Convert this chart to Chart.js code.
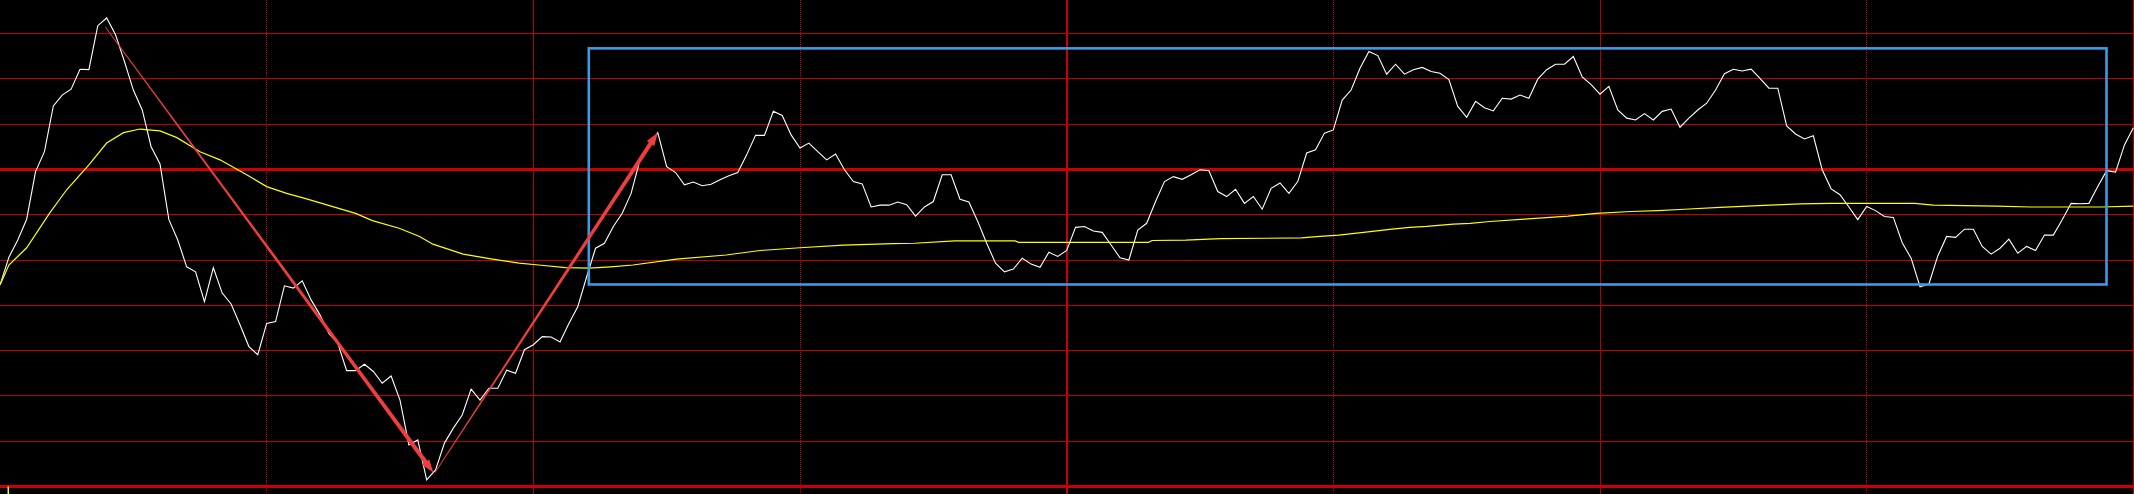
<!DOCTYPE html>
<html>
<head>
<meta charset="utf-8">
<script src="https://cdn.jsdelivr.net/npm/chart.js@4/dist/chart.umd.min.js"></script>
<style>
  html, body { margin: 0; padding: 0; background: #000; overflow: hidden; }
  #wrap { width: 2134px; height: 494px; position: relative; background: #000; }
</style>
</head>
<body>
<div id="wrap"><canvas id="c"></canvas></div>
<script>
// ---- data (intraday minutes 0..240, values in % vs reference line) ----
const price = [
 -2.55,-1.94,-1.56,-1.10,-0.05,0.39,1.40,1.64,1.77,2.21,
 2.20,3.17,3.34,2.97,2.38,1.75,1.31,0.50,0.12,-1.11,
 -1.56,-2.15,-2.26,-2.92,-2.17,-2.73,-2.97,-3.43,-3.91,-4.09,
 -3.40,-3.36,-2.57,-2.62,-2.46,-2.88,-3.21,-3.62,-3.84,-4.44,
 -4.44,-4.30,-4.46,-4.72,-4.56,-5.09,-6.08,-5.97,-6.85,-6.63,
 -6.04,-5.71,-5.42,-4.85,-5.09,-4.83,-4.83,-4.43,-4.50,-3.98,
 -3.87,-3.69,-3.70,-3.81,-3.40,-3.03,-2.37,-1.74,-1.63,-1.26,
 -0.97,-0.53,0.21,0.50,0.81,0.06,-0.07,-0.34,-0.28,-0.36,
 -0.33,-0.23,-0.14,-0.07,0.32,0.75,0.75,1.28,1.19,0.76,
 0.47,0.58,0.39,0.21,0.34,-0.01,-0.27,-0.32,-0.83,-0.79,
 -0.79,-0.72,-0.78,-1.03,-0.83,-0.71,-0.12,-0.12,-0.66,-0.72,
 -1.15,-1.63,-2.07,-2.26,-2.20,-1.96,-2.09,-2.16,-1.83,-1.92,
 -1.79,-1.28,-1.26,-1.36,-1.39,-1.67,-1.95,-2.00,-1.34,-1.19,
 -0.71,-0.27,-0.16,-0.22,-0.12,-0.01,-0.03,-0.49,-0.60,-0.44,
 -0.75,-0.60,-0.88,-0.42,-0.30,-0.53,-0.27,0.36,0.43,0.80,
 0.87,1.53,1.75,2.23,2.60,2.51,2.10,2.32,2.10,2.20,
 2.25,2.16,2.12,1.98,1.39,1.15,1.50,1.36,1.29,1.57,
 1.55,1.64,1.57,1.99,2.20,2.32,2.32,2.49,2.04,1.87,
 1.66,1.83,1.31,1.13,1.09,1.23,1.09,1.28,1.33,0.93,
 1.13,1.31,1.46,1.75,2.11,2.21,2.17,2.21,2.01,1.79,
 1.79,0.96,0.78,0.67,0.74,-0.01,-0.43,-0.56,-0.83,-1.11,
 -0.82,-0.91,-1.04,-1.06,-1.62,-1.96,-2.59,-2.53,-1.91,-1.48,
 -1.50,-1.32,-1.32,-1.70,-1.87,-1.74,-1.54,-1.85,-1.70,-1.79,
 -1.45,-1.45,-1.11,-0.75,-0.76,-0.75,-0.38,-0.03,-0.06,0.54,
 0.92
];
const minutes = price.map((_, i) => i);

const avgMinutes = [0,1,3,5.6,7.5,10,12,13.9,15.75,18,19.9,22.5,24.75,27.75,30,32.25,34.3,40,41.9,44.9,47.2,48.7,52.1,55.4,58.4,60.6,63.6,66.3,68.7,71.2,76.1,81.7,85.5,90,94.9,100.5,102.9,107.4,114.2,114.6,129.2,129.6,133.4,137.3,142.5,146.4,148.5,150.6,153.4,156.6,158.6,160.5,163.5,165.4,167.6,171.5,176.4,179.6,183.5,186.5,189.5,193.5,197.8,202.5,205.9,210,215.4,217.5,224.6,228.4,232.1,236.4,240];
const avgValues  = [-2.55,-2.11,-1.73,-0.96,-0.45,0.10,0.58,0.81,0.89,0.85,0.70,0.39,0.21,-0.12,-0.38,-0.53,-0.64,-0.97,-1.13,-1.30,-1.48,-1.65,-1.87,-1.98,-2.07,-2.11,-2.17,-2.18,-2.15,-2.11,-1.98,-1.89,-1.79,-1.73,-1.67,-1.64,-1.63,-1.58,-1.58,-1.61,-1.61,-1.57,-1.56,-1.53,-1.52,-1.51,-1.48,-1.45,-1.39,-1.32,-1.28,-1.26,-1.21,-1.19,-1.15,-1.10,-1.03,-0.97,-0.93,-0.91,-0.88,-0.84,-0.80,-0.76,-0.75,-0.75,-0.75,-0.79,-0.81,-0.83,-0.83,-0.83,-0.81];

const volumeMarkMinute = [0.93, 0.93];
const volumeMarkValue  = [-7.0, -7.25];

// grid positions
const xGridMinutes = [0, 30, 60, 90, 120, 150, 180, 210, 240];
const yGridValues  = [-7, -6, -5, -4, -3, -2, -1, 0, 1, 2, 3];

// annotations (in data coordinates)
const arrowTails = [[11.85, 3.14], [48.94, -6.69]];
const arrowHeads = [[48.75, -6.69], [73.99, 0.81]];
const boxMinutes = [66.24, 236.98];
const boxValues  = [2.67, -2.54];

const annotationPlugin = {
  id: 'annotations',
  afterDatasetsDraw(chart) {
    const {ctx, scales: {x, y}} = chart;
    ctx.save();
    // blue rectangle
    const bx0 = x.getPixelForValue(boxMinutes[0]);
    const bx1 = x.getPixelForValue(boxMinutes[1]);
    const by0 = y.getPixelForValue(boxValues[0]);
    const by1 = y.getPixelForValue(boxValues[1]);
    ctx.strokeStyle = '#3b9be3';
    ctx.lineWidth = 2.6;
    ctx.strokeRect(bx0, by0, bx1 - bx0, by1 - by0);
    // tapered arrows
    ctx.fillStyle = 'rgb(240,62,62)';
    for (let i = 0; i < arrowTails.length; i++) {
      const x0 = x.getPixelForValue(arrowTails[i][0]), y0 = y.getPixelForValue(arrowTails[i][1]);
      const x1 = x.getPixelForValue(arrowHeads[i][0]), y1 = y.getPixelForValue(arrowHeads[i][1]);
      const dx = x1 - x0, dy = y1 - y0, L = Math.hypot(dx, dy);
      const ux = dx / L, uy = dy / L, nx = -uy, ny = ux;
      const w0 = 0.8, w1 = 4.2, hl = 13, hw = 9;
      const bx = x1 - ux * hl, by = y1 - uy * hl;
      ctx.beginPath();
      ctx.moveTo(x0 + nx * w0 / 2, y0 + ny * w0 / 2);
      ctx.lineTo(bx + nx * w1 / 2, by + ny * w1 / 2);
      ctx.lineTo(bx + nx * hw / 2, by + ny * hw / 2);
      ctx.lineTo(x1, y1);
      ctx.lineTo(bx - nx * hw / 2, by - ny * hw / 2);
      ctx.lineTo(bx - nx * w1 / 2, by - ny * w1 / 2);
      ctx.lineTo(x0 - nx * w0 / 2, y0 - ny * w0 / 2);
      ctx.closePath();
      ctx.fill();
    }
    ctx.restore();
  }
};

const bgPlugin = {
  id: 'bg',
  beforeDraw(chart) {
    const {ctx, width, height} = chart;
    ctx.save();
    ctx.fillStyle = '#000';
    ctx.fillRect(0, 0, width, height);
    ctx.restore();
  }
};

new Chart(document.getElementById('c'), {
  type: 'line',
  data: {
    datasets: [
      {
        label: 'price',
        data: minutes.map((m, i) => ({x: m, y: price[i]})),
        borderColor: '#ffffff',
        borderWidth: 1.1,
        pointRadius: 0,
        tension: 0,
        order: 2
      },
      {
        label: 'average',
        data: avgMinutes.map((m, i) => ({x: m, y: avgValues[i]})),
        borderColor: '#ffff00',
        borderWidth: 1.2,
        pointRadius: 0,
        tension: 0,
        order: 1
      },
      {
        label: 'volume',
        data: volumeMarkMinute.map((m, i) => ({x: m, y: volumeMarkValue[i]})),
        borderColor: '#ffff00',
        borderWidth: 1.5,
        pointRadius: 0,
        order: 0
      }
    ]
  },
  options: {
    responsive: true,
    maintainAspectRatio: false,
    animation: false,
    events: [],
    layout: { padding: 0 },
    plugins: { legend: { display: false }, tooltip: { enabled: false } },
    scales: {
      x: {
        type: 'linear',
        min: 0,
        max: 240.075,
        afterBuildTicks: (s) => { s.ticks = xGridMinutes.map(v => ({value: v})); },
        ticks: { display: false },
        border: {
          display: false,
          dash: (c) => (c.tick && (c.tick.value / 30) % 2 === 1) ? [1, 1] : []
        },
        grid: {
          drawTicks: false,
          color: (c) => {
            const v = c.tick ? c.tick.value : 0;
            if (v === 0) return 'rgba(0,0,0,0)';
            if (v === 120) return '#cc0000';
            return (v / 30) % 2 === 1 ? '#c80000' : '#b00000';
          },
          lineWidth: (c) => (c.tick && c.tick.value === 120) ? 2 : 1
        }
      },
      y: {
        type: 'linear',
        min: -7.163,
        max: 3.737,
        afterBuildTicks: (s) => { s.ticks = yGridValues.map(v => ({value: v})); },
        ticks: { display: false },
        border: { display: false },
        grid: {
          drawTicks: false,
          color: (c) => (c.tick && (c.tick.value === 0 || c.tick.value === -7)) ? '#cc0000' : '#c00000',
          lineWidth: (c) => (c.tick && (c.tick.value === 0 || c.tick.value === -7)) ? 3 : 1
        }
      }
    }
  },
  plugins: [bgPlugin, annotationPlugin]
});
</script>
</body>
</html>
